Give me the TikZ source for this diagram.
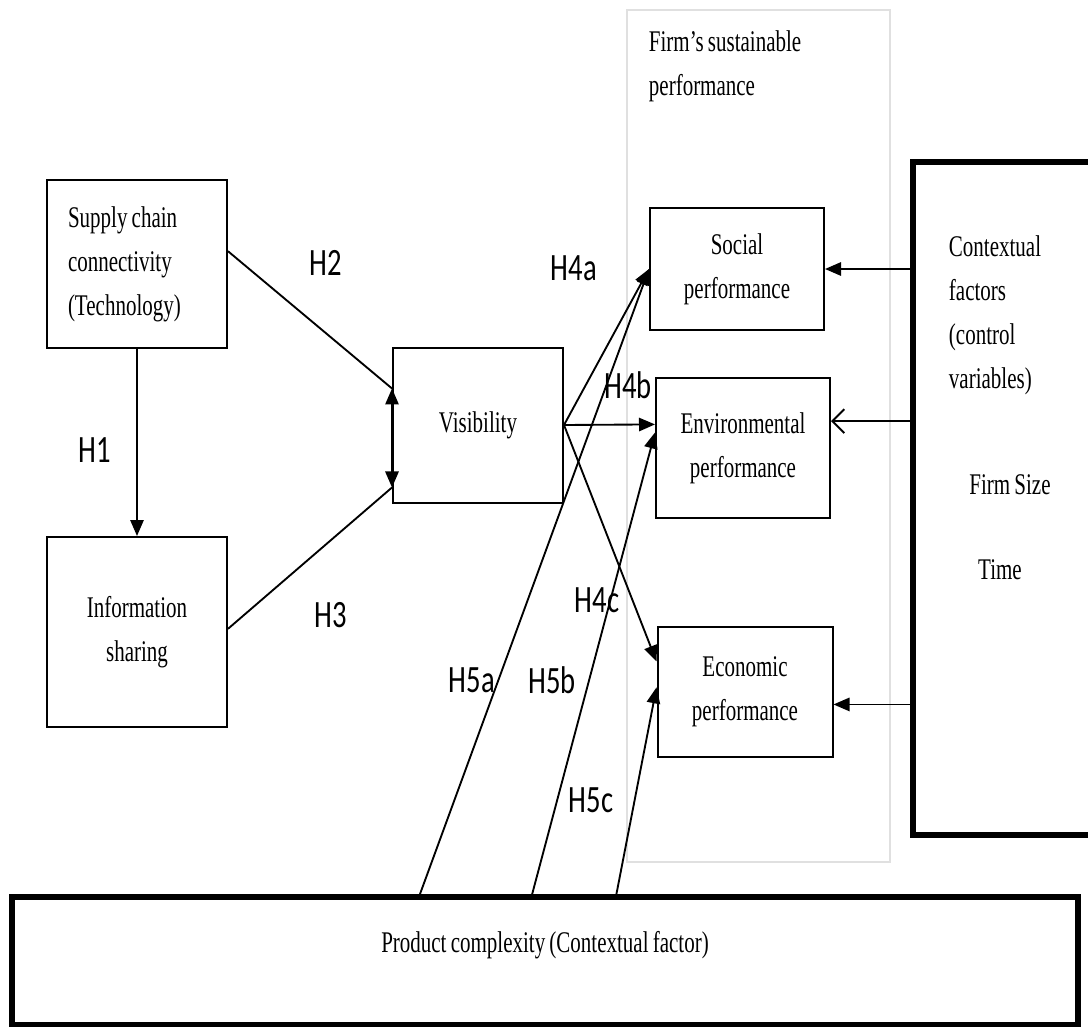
\documentclass[tikz,border=0pt]{standalone}
\usepackage{fontspec}
\setmainfont{Liberation Serif}[FakeStretch=0.7, WordSpace=0.8]
\newfontfamily\hypfont{Carlito}[FakeStretch=0.74]
\usetikzlibrary{positioning, calc, arrows.meta}

\begin{document}
\begin{tikzpicture}[x=0.75pt, y=-0.75pt, line width=1.4pt,
		>={Triangle[length=12pt,width=10pt]},
		box/.style={draw, line width=1.5pt, align=flush center, font=\fontsize{22.5}{33}\selectfont},
		heavybox/.style={draw, line width=3.8pt},
		txt/.style={inner sep=0pt, align=flush left, font=\fontsize{22.5}{33}\selectfont},
		hyp/.style={inner sep=0pt, font=\hypfont\fontsize{29}{30}\selectfont}]
	\clip (0,0) rectangle (1088,1027);
	\fill [white] (0,0) rectangle (1088,1027);

	% outer frame of the outcome block
	\node (firm) [draw=black!12, line width=0.8pt, minimum width=197.25pt, minimum height=639pt] at (758.5,436) {};
	\node (firmlbl) [txt, anchor=west] at (648,66) {Firm’s sustainable\\performance};

	\node (sc) [box, align=flush left, text width=103.5pt, inner xsep=15.75pt, minimum height=126pt] at (137,264) {Supply chain\\connectivity\\(Technology)};
	\node (info) [box, minimum width=135pt, minimum height=142.5pt] at (137,632) {Information\\sharing};
	\node (vis) [box, minimum width=127.5pt, minimum height=116.25pt] at (478,425) {Visibility};
	\node (soc) [box, minimum width=130.5pt, minimum height=91.5pt] at (737,269) {Social\\performance};
	\node (env) [box, minimum width=130.5pt, minimum height=105pt] at (743,448) {Environmental\\performance};
	\node (eco) [box, minimum width=131.25pt, minimum height=97.5pt] at (745,692) {Economic\\performance};

	\node (ctx) [heavybox, minimum width=140.25pt, minimum height=504.75pt] at (1006.5,498.5) {};
	\node (ctxlbl) [txt, anchor=west] at (948,315) {Contextual\\factors\\(control\\variables)};
	\node (size) [txt] at (1010,485) {Firm Size};
	\node (time) [txt] at (1000,570) {Time};

	\node (prod) [heavybox, minimum width=799.5pt, minimum height=96pt] at (545,961) {};
	\node (prodlbl) [txt] at (545,945) {Product complexity (Contextual factor)};

	% hypotheses
	\draw [->] (sc) -- (info);
	\draw (sc.8) -- (vis.157);
	\draw (info.2) -- (vis.216);
	\draw [<->] (vis.157) -- (vis.216);
	\draw [->] (vis.east) -- (soc.west);
	\draw [->] (vis.east) -- (env.165);
	\draw [->] (vis.east) -- (eco.161);
	\draw [->] (prod.152) -- (soc.west);
	\draw [->] (prod.101) -- (env.170);
	\draw [->] (prod.43) -- (eco.177);

	% control variables
	\draw [->] (soc.east -| ctx.west) -- (soc.east);
	\draw [-{Straight Barb[length=9pt,width=18pt]}] (env.17 -| ctx.west) -- (env.17);
	\draw [->] (eco.-8 -| ctx.west) -- (eco.-8);

	\node (h1) [hyp] at (95,450) {H1};
	\node (h2) [hyp] at (326,263) {H2};
	\node (h3) [hyp] at (331,615) {H3};
	\node (h4a) [hyp] at (574,268) {H4a};
	\node (h4b) [hyp] at (628,385) {H4b};
	\node (h4c) [hyp] at (597,600) {H4c};
	\node (h5a) [hyp] at (472,680) {H5a};
	\node (h5b) [hyp] at (552,680) {H5b};
	\node (h5c) [hyp] at (591,800) {H5c};
\end{tikzpicture}
\end{document}
